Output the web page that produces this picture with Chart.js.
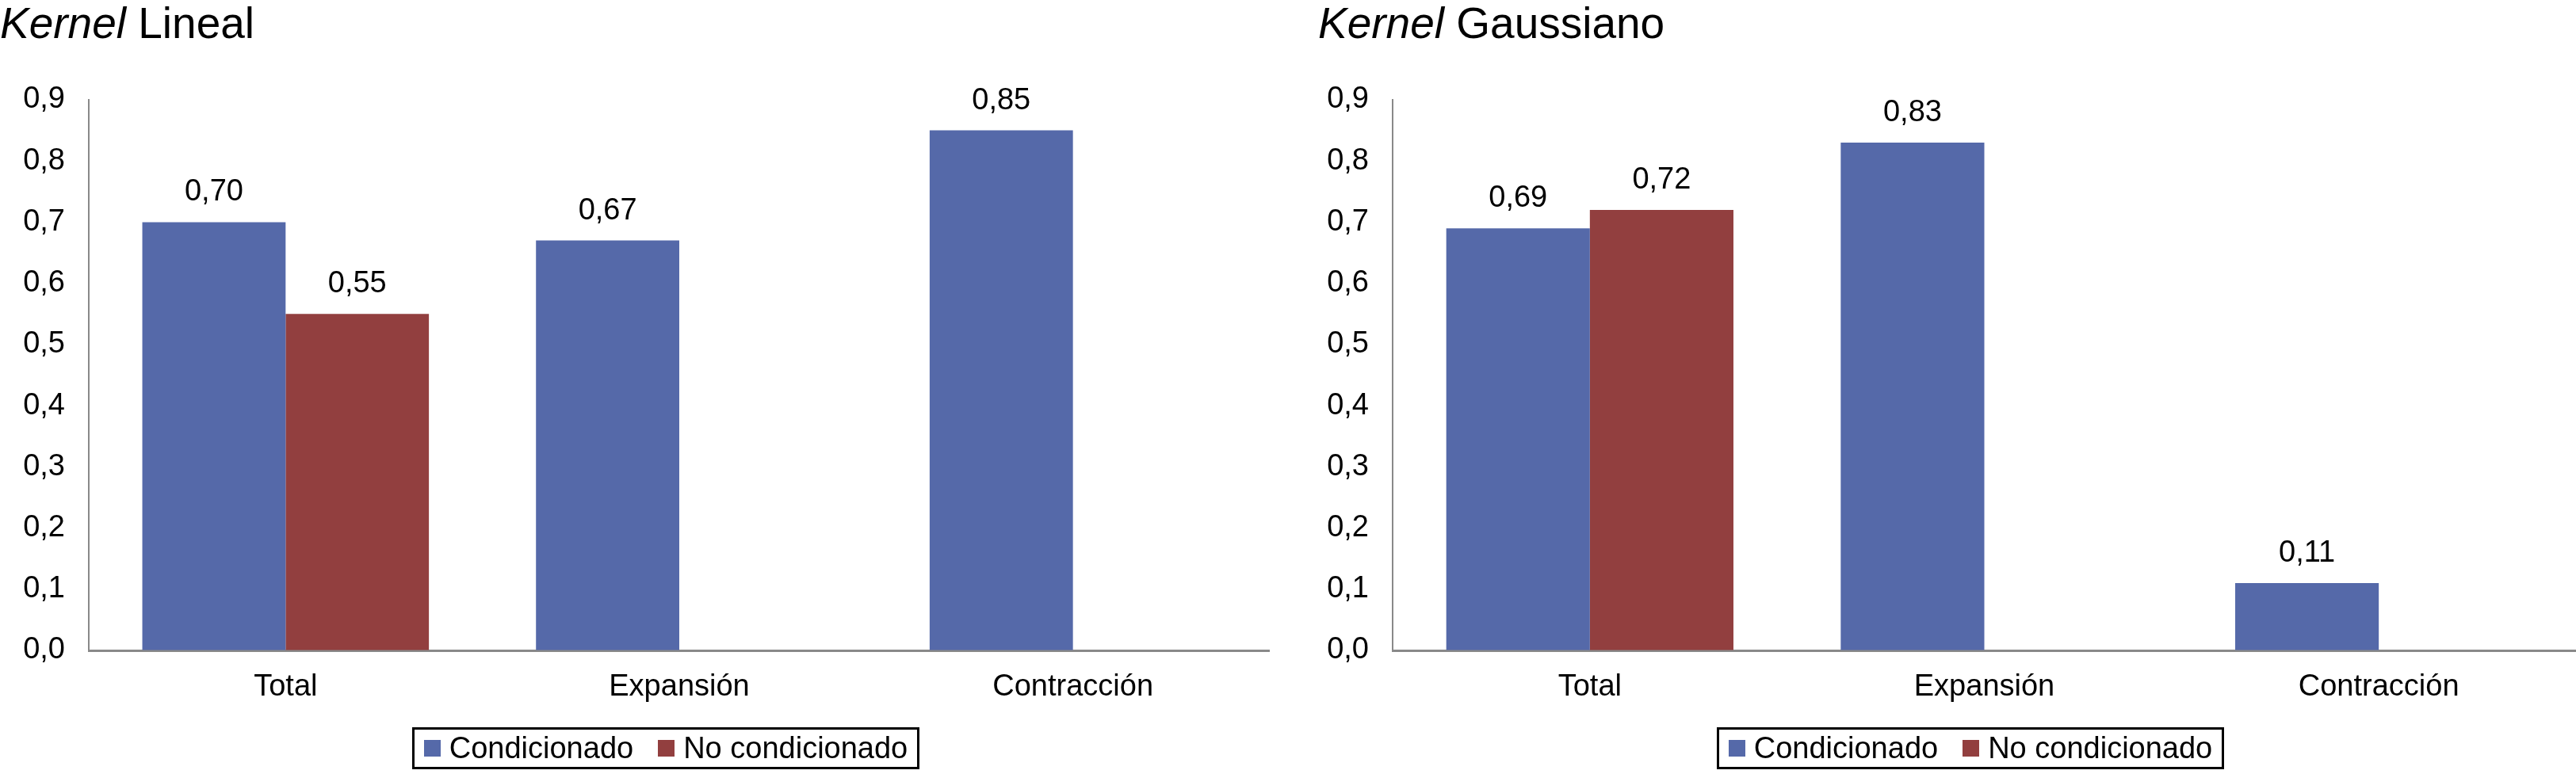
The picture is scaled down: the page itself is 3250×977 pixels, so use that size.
<!DOCTYPE html>
<html>
<head>
<meta charset="utf-8">
<script src="https://cdn.jsdelivr.net/npm/chart.js@4/dist/chart.umd.min.js"></script>
<style>
  html, body { margin:0; padding:0; background:#fff; }
  body { width:3250px; height:977px; position:relative; overflow:hidden; font-family:"Liberation Sans", Arial, sans-serif; }
  canvas { position:absolute; top:0; }
  .title { position:absolute; top:2px; font-size:55px; line-height:55px; color:#000; white-space:nowrap; }
  .legend { position:absolute; top:918px; height:53px; box-sizing:border-box; border:3px solid #000;
            display:flex; align-items:center; justify-content:center; font-size:38px; color:#000; white-space:nowrap; }
  .sw { display:inline-block; width:21px; height:21px; margin-right:11px; }
  .item { display:flex; align-items:center; }
  .item + .item { margin-left:31px; }
</style>
</head>
<body>
<div class="title" style="left:0px;"><i>Kernel</i> Lineal</div>
<div class="title" style="left:1663px;"><i>Kernel</i> Gaussiano</div>
<canvas id="c1" width="1602" height="977" style="left:0px;"></canvas>
<canvas id="c2" width="1610" height="977" style="left:1640px;"></canvas>
<div class="legend" style="left:520px;width:640px;">
  <span class="item"><span class="sw" style="background:#5569A9"></span>Condicionado</span>
  <span class="item"><span class="sw" style="background:#923F3F"></span>No condicionado</span>
</div>
<div class="legend" style="left:2166px;width:640px;">
  <span class="item"><span class="sw" style="background:#5569A9"></span>Condicionado</span>
  <span class="item"><span class="sw" style="background:#923F3F"></span>No condicionado</span>
</div>
<script>
const categories = ['Total', 'Expansión', 'Contracción'];
const seriesNames = ['Condicionado', 'No condicionado'];
const linealCondicionado = [0.70, 0.67, 0.85];
const linealNoCondicionado = [0.55, null, null];
const gaussCondicionado = [0.69, 0.83, 0.11];
const gaussNoCondicionado = [0.72, null, null];
const tickLabels = ['0,0','0,1','0,2','0,3','0,4','0,5','0,6','0,7','0,8','0,9'];

const BLUE = '#5569A9';
const RED = '#923F3F';
const FONT = '"Liberation Sans", Arial, sans-serif';

const valueLabels = {
  id: 'valueLabels',
  afterDatasetsDraw(chart) {
    const ctx = chart.ctx;
    ctx.save();
    ctx.font = '38px ' + FONT;
    ctx.fillStyle = '#000';
    ctx.textAlign = 'center';
    ctx.textBaseline = 'alphabetic';
    chart.data.datasets.forEach((ds, di) => {
      const meta = chart.getDatasetMeta(di);
      meta.data.forEach((el, i) => {
        const v = ds.data[i];
        if (v === null || v === undefined) return;
        ctx.fillText(v.toFixed(2).replace('.', ','), el.x, el.y - 27);
      });
    });
    ctx.restore();
  }
};

function makeChart(id, cond, noCond, yWidth) {
  return new Chart(document.getElementById(id), {
    type: 'bar',
    data: {
      labels: categories,
      datasets: [
        { label: seriesNames[0], data: cond, backgroundColor: BLUE, borderWidth: 0 },
        { label: seriesNames[1], data: noCond, backgroundColor: RED, borderWidth: 0 }
      ]
    },
    options: {
      responsive: false,
      animation: false,
      devicePixelRatio: 1,
      categoryPercentage: 0.728,
      barPercentage: 1.0,
      layout: { padding: { top: 126, bottom: 86, left: 0, right: 0 } },
      plugins: { legend: { display: false }, tooltip: { enabled: false }, title: { display: false } },
      scales: {
        x: {
          grid: { display: true, drawOnChartArea: false, drawTicks: false },
          border: { display: true, color: '#898989', width: 3 },
          ticks: { color: '#000', font: { family: FONT, size: 38 }, padding: 24, maxRotation: 0 },
          afterFit: s => { s.height = 70; }
        },
        y: {
          min: 0, max: 0.9,
          grid: { display: true, drawOnChartArea: false, drawTicks: false },
          border: { display: true, color: '#898989', width: 2 },
          ticks: { stepSize: 0.1, color: '#000', font: { family: FONT, size: 38 }, padding: 30,
                   callback: (v, i) => tickLabels[i] },
          afterFit: s => { s.width = yWidth; }
        }
      }
    },
    plugins: [valueLabels]
  });
}

makeChart('c1', linealCondicionado, linealNoCondicionado, 112);
makeChart('c2', gaussCondicionado, gaussNoCondicionado, 117);
</script>
</body>
</html>
